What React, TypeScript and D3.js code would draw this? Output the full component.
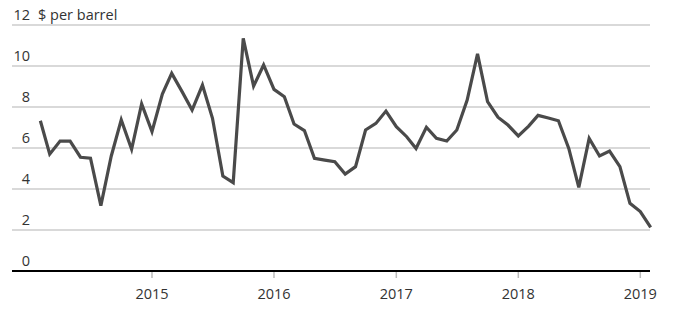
import React from "react";
import * as d3 from "d3";

const startMonth = "2014-02";
const values = [
  7.33, 5.7, 6.34, 6.34, 5.55, 5.5, 3.19, 5.6, 7.37, 5.94, 8.15,
  6.8, 8.63, 9.64, 8.75, 7.85, 9.07, 7.45, 4.63, 4.31, 11.35, 9.02, 10.05,
  8.86, 8.5, 7.17, 6.85, 5.5, 5.41, 5.33, 4.73, 5.09, 6.88, 7.2, 7.8,
  7.04, 6.55, 5.98, 7.01, 6.47, 6.34, 6.88, 8.34, 10.59, 8.26, 7.5, 7.12,
  6.59, 7.07, 7.59, 7.46, 7.33, 5.98, 4.08, 6.47, 5.61, 5.85, 5.09, 3.3,
  2.9, 2.13,
];
const yTicks = [0, 2, 4, 6, 8, 10, 12];
const xTickYears = [2015, 2016, 2017, 2018, 2019];
const unitLabel = "$ per barrel";

const W = 680;
const H = 328;
const FONT = "'Open Sans', Lato, sans-serif";

export default function App() {
  const parse = d3.timeParse("%Y-%m");
  const start = parse(startMonth) as Date;
  const dates = values.map((_, i) => d3.timeMonth.offset(start, i));

  const x = d3
    .scaleTime()
    .domain([new Date(2014, 0, 1), new Date(2019, 0, 1)])
    .range([30, 640.3]);
  const y = d3.scaleLinear().domain([0, 12]).range([271, 25]);

  const line = d3
    .line<number>()
    .x((_, i) => x(dates[i]))
    .y((d) => y(d));

  const gridX0 = 12;
  const gridX1 = 650;

  return (
    <svg
      width={W}
      height={H}
      style={{ position: "absolute", left: 0, top: 0, background: "#fff" }}
    >
      {yTicks.map((t) =>
        t === 0 ? null : (
          <line
            key={"g" + t}
            x1={gridX0}
            x2={gridX1}
            y1={y(t)}
            y2={y(t)}
            stroke="#cccccc"
            strokeWidth={1.5}
          />
        )
      )}
      {yTicks.map((t) => (
        <text
          key={"yl" + t}
          x={30}
          y={y(t) - 5}
          textAnchor="end"
          fontFamily={FONT}
          fontSize={14.5}
          fill="#333"
        >
          {t}
        </text>
      ))}
      <text
        x={38}
        y={y(12) - 5}
        fontFamily={FONT}
        fontSize={14.5}
        fill="#333"
      >
        {unitLabel}
      </text>
      {xTickYears.map((yr) => {
        const xp = x(new Date(yr, 0, 1));
        return (
          <g key={"xt" + yr}>
            <line
              x1={xp}
              x2={xp}
              y1={y(0)}
              y2={y(0) + 7}
              stroke="#bbbbbb"
              strokeWidth={1.5}
            />
            <text
              x={xp}
              y={299}
              textAnchor="middle"
              fontFamily={FONT}
              fontSize={14.5}
              fill="#333"
            >
              {yr}
            </text>
          </g>
        );
      })}
      <line
        x1={gridX0}
        x2={gridX1}
        y1={y(0)}
        y2={y(0)}
        stroke="#000"
        strokeWidth={2}
      />
      <path
        d={line(values) || ""}
        fill="none"
        stroke="#4a4a4a"
        strokeWidth={3.2}
        strokeLinejoin="miter"
      />
    </svg>
  );
}
